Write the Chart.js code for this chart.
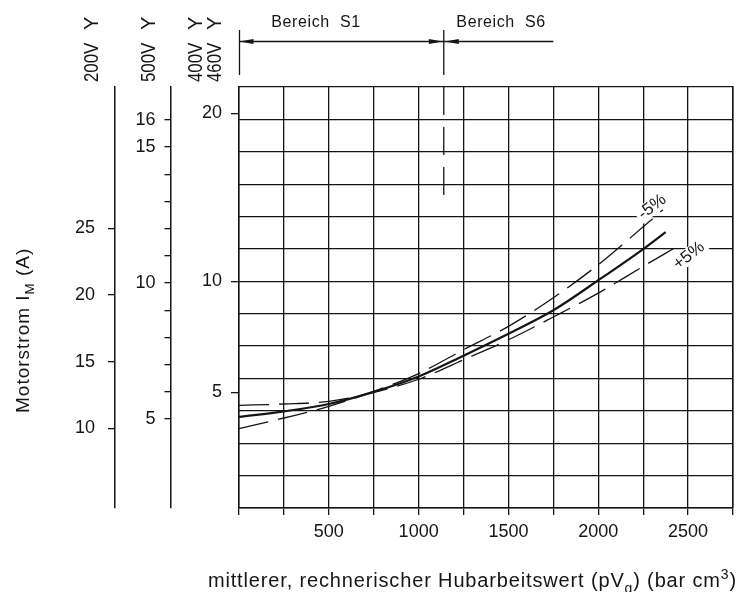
<!DOCTYPE html>
<html>
<head>
<meta charset="utf-8">
<script src="https://cdn.jsdelivr.net/npm/chart.js@4.4.0/dist/chart.umd.min.js"></script>
<style>
  html, body { margin: 0; padding: 0; background: #fff; }
</style>
</head>
<body>
<canvas id="myChart" width="739" height="592"></canvas>
<script>
// mittlerer Hubarbeitswert pVg (bar cm3) und Motorstrom bei 400 V (A)
const hubNenn = [0, 250, 500, 750, 1000, 1250, 1500, 1750, 2000, 2250, 2375];
const stromNenn = [4.09, 4.29, 4.56, 5.02, 5.63, 6.50, 7.47, 8.57, 10.06, 11.71, 12.65];

const hubMinus5 = [0, 250, 500, 750, 1000, 1250, 1500, 1750, 2000, 2250, 2360];
const stromMinus5 = [3.68, 4.05, 4.47, 5.04, 5.75, 6.76, 7.81, 9.18, 10.87, 12.95, 13.93];

const hubPlus5 = [0, 250, 500, 750, 1000, 1250, 1500, 1750, 2000, 2250, 2425];
const stromPlus5 = [4.51, 4.56, 4.66, 5.00, 5.52, 6.33, 7.20, 8.25, 9.41, 10.78, 11.77];

// Grenze Bereich S1 / S6
const grenzeS1 = 1140;
const endeS6 = 1750;
const grenzeStrom = [21.82, 14.6];

// Achsen
const xGrid = [0, 250, 500, 750, 1000, 1250, 1500, 1750, 2000, 2250, 2500, 2750];
const xLabels = [500, 1000, 1500, 2000, 2500];
const ticks400 = [5, 10, 20];
const ticks500 = [5, 6, 7, 8, 9, 10, 11, 12, 13, 14, 15, 16];
const labels500 = [5, 10, 15, 16];
const ticks200 = [10, 15, 20, 25];

const INK = '#151515';
const FONT = '"Liberation Sans", Arial, sans-serif';
const EXP = 0.598; // 400V-Skala ist nicht linear

class PowerScale extends Chart.LinearScale {
  getPixelForValue(value) {
    if (value === null || value === undefined) return NaN;
    const lo = Math.pow(this.min, EXP), hi = Math.pow(this.max, EXP);
    return this.getPixelForDecimal((Math.pow(value, EXP) - lo) / (hi - lo));
  }
  getValueForPixel(pixel) {
    const lo = Math.pow(this.min, EXP), hi = Math.pow(this.max, EXP);
    return Math.pow(lo + this.getDecimalForPixel(pixel) * (hi - lo), 1 / EXP);
  }
}
PowerScale.id = 'power';
PowerScale.defaults = Chart.LinearScale.defaults;
Chart.register(PowerScale);

function pts(xs, ys) {
  return xs.map((x, i) => ({ x: x, y: ys[i] }));
}

// Text mit Index / Exponent, gibt Breite zurueck
function richText(ctx, parts, x, y, size, draw) {
  let cx = x;
  parts.forEach(([t, k]) => {
    const fs = k ? size * 0.7 : size;
    ctx.font = fs + 'px ' + FONT;
    const dy = k === 1 ? size * 0.3 : (k === 2 ? -size * 0.38 : 0);
    if (draw) ctx.fillText(t, cx, y + dy);
    cx += ctx.measureText(t).width;
  });
  return cx - x;
}

function arrowHead(ctx, x, y, dir) {
  ctx.beginPath();
  ctx.moveTo(x, y);
  ctx.lineTo(x - dir * 14, y - 2.5);
  ctx.lineTo(x - dir * 14, y + 2.5);
  ctx.closePath();
  ctx.fill();
}

const zeichnung = {
  id: 'zeichnung',
  afterDraw(chart) {
    const ctx = chart.ctx;
    const xs = chart.scales.x;
    const ys = chart.scales.y;
    ctx.save();
    ctx.fillStyle = INK;
    ctx.strokeStyle = INK;
    ctx.textBaseline = 'alphabetic';
    ctx.textAlign = 'left';

    // x-Achsentitel
    ctx.letterSpacing = '0.85px';
    const xTitle = [['mittlerer, rechnerischer Hubarbeitswert (pV', 0], ['g', 1], [') (bar cm', 0], ['3', 2], [')', 0]];
    const w = richText(ctx, xTitle, 0, 0, 20, false);
    richText(ctx, xTitle, 737 - w, 587, 20, true);

    // y-Achsentitel
    ctx.letterSpacing = '1px';
    ctx.save();
    ctx.translate(28.5, 413);
    ctx.rotate(-Math.PI / 2);
    richText(ctx, [['Motorstrom I', 0], ['M', 1], [' (A)', 0]], 0, 0, 19, true);
    ctx.restore();
    ctx.letterSpacing = '0px';

    // Spannungen ueber den Achsen
    [['200V', 92.5], ['500V', 149], ['400V', 196.5], ['460V', 215]].forEach(([t, x]) => {
      ctx.save();
      ctx.translate(x, 82);
      ctx.rotate(-Math.PI / 2);
      ctx.textBaseline = 'middle';
      ctx.font = '21px ' + FONT;
      ctx.save();
      ctx.scale(0.8, 1);
      ctx.fillText(t, 0, 0);
      ctx.restore();
      ctx.font = '20px ' + FONT;
      ctx.fillText('Y', 52, 0);
      ctx.restore();
    });

    // Bereich S1 / S6
    const x0 = xs.getPixelForValue(0) + 0.5;
    const xg = xs.getPixelForValue(grenzeS1);
    const xe = xs.getPixelForValue(endeS6);
    ctx.lineWidth = 1.3;
    ctx.beginPath();
    ctx.moveTo(x0, 30); ctx.lineTo(x0, 75);
    ctx.moveTo(xg, 30); ctx.lineTo(xg, 75);
    ctx.moveTo(x0, 41.5); ctx.lineTo(xg, 41.5);
    ctx.moveTo(xg, 41.5); ctx.lineTo(xe, 41.5);
    ctx.stroke();
    arrowHead(ctx, x0, 41.5, -1);
    arrowHead(ctx, xg - 1, 41.5, 1);
    arrowHead(ctx, xg + 1, 41.5, -1);
    ctx.font = '16px ' + FONT;
    ctx.letterSpacing = '0.6px';
    ctx.fillText('Bereich  S1', xs.getPixelForValue(180), 26.5);
    ctx.fillText('Bereich  S6', xs.getPixelForValue(1210), 26.5);
    ctx.letterSpacing = '0px';

    // Toleranzbeschriftung
    [['-5%', 2300, 14.1, -37], ['+5%', 2505, 11.35, -38]].forEach(([t, hx, iy, ang]) => {
      ctx.save();
      ctx.translate(xs.getPixelForValue(hx), ys.getPixelForValue(iy));
      ctx.rotate(ang * Math.PI / 180);
      ctx.font = '17px ' + FONT;
      ctx.textAlign = 'center';
      ctx.textBaseline = 'middle';
      const tw = ctx.measureText(t).width;
      ctx.fillStyle = '#fff';
      ctx.fillRect(-tw / 2 - 3, -8, tw + 6, 16);
      ctx.fillStyle = INK;
      ctx.fillText(t, 0, 0);
      ctx.restore();
    });
    ctx.restore();
  }
};

const ctx = document.getElementById('myChart');

new Chart(ctx, {
  type: 'line',
  data: {
    datasets: [
      { label: 'Nenn', data: pts(hubNenn, stromNenn), borderColor: INK, borderWidth: 2.2,
        pointRadius: 0, cubicInterpolationMode: 'monotone', yAxisID: 'y' },
      { label: '-5%', data: pts(hubMinus5, stromMinus5), borderColor: INK, borderWidth: 1.3,
        borderDash: [30, 10], pointRadius: 0, cubicInterpolationMode: 'monotone', yAxisID: 'y' },
      { label: '+5%', data: pts(hubPlus5, stromPlus5), borderColor: INK, borderWidth: 1.3,
        borderDash: [30, 10], pointRadius: 0, cubicInterpolationMode: 'monotone', yAxisID: 'y' },
      { label: 'S1/S6', data: [{ x: grenzeS1, y: grenzeStrom[0] }, { x: grenzeS1, y: grenzeStrom[1] }],
        borderColor: INK, borderWidth: 1.3, borderDash: [28, 12], pointRadius: 0, yAxisID: 'y' }
    ]
  },
  options: {
    responsive: false,
    animation: false,
    layout: { padding: { top: 87, right: 2, bottom: 0, left: 0 } },
    plugins: { legend: { display: false }, tooltip: { enabled: false } },
    scales: {
      x: {
        type: 'linear', min: 0, max: 2750,
        afterBuildTicks: s => { s.ticks = xGrid.map(v => ({ value: v })); },
        ticks: { autoSkip: false, maxRotation: 0, padding: 6, color: INK,
                 font: { family: FONT, size: 18 },
                 callback: v => xLabels.includes(v) ? v : '' },
        grid: { color: INK, lineWidth: 1.3, tickLength: 7, tickColor: INK },
        border: { display: true, color: INK, width: 1.5 },
        afterFit: s => { s.height = 84; }
      },
      yGrid: {
        type: 'linear', position: 'right', min: 0, max: 13,
        ticks: { display: false, stepSize: 1 },
        grid: { color: INK, lineWidth: 1.3, drawTicks: false },
        border: { display: true, color: INK, width: 1.5 },
        afterFit: s => { s.width = 0; }
      },
      y: {
        type: 'power', position: 'left', weight: 1, min: 1.39, max: 21.82, bounds: 'data',
        afterBuildTicks: s => { s.ticks = ticks400.map(v => ({ value: v })); },
        ticks: { autoSkip: false, padding: 9, color: INK, font: { family: FONT, size: 18 } },
        grid: { drawOnChartArea: false, tickLength: 8, color: INK, tickColor: INK, lineWidth: 1.3 },
        border: { display: true, color: INK, width: 1.5 },
        afterFit: s => { s.width = 68; }
      },
      y500: {
        type: 'linear', position: 'left', weight: 2, min: 1.73, max: 17.21, bounds: 'data',
        afterBuildTicks: s => { s.ticks = ticks500.map(v => ({ value: v })); },
        ticks: { autoSkip: false, padding: 9, color: INK, font: { family: FONT, size: 18 },
                 callback: v => labels500.includes(v) ? v : '' },
        grid: { drawOnChartArea: false, tickLength: 6.5, color: INK, tickColor: INK, lineWidth: 1.3 },
        border: { display: true, color: INK, width: 1.5 },
        afterFit: s => { s.width = 56; }
      },
      y200: {
        type: 'linear', position: 'left', weight: 3, min: 4.03, max: 35.6, bounds: 'data',
        afterBuildTicks: s => { s.ticks = ticks200.map(v => ({ value: v })); },
        ticks: { autoSkip: false, padding: 13, color: INK, font: { family: FONT, size: 18 } },
        grid: { drawOnChartArea: false, tickLength: 7, color: INK, tickColor: INK, lineWidth: 1.3 },
        border: { display: true, color: INK, width: 1.5 },
        afterFit: s => { s.width = 115; }
      }
    }
  },
  plugins: [zeichnung]
});
</script>
</body>
</html>
